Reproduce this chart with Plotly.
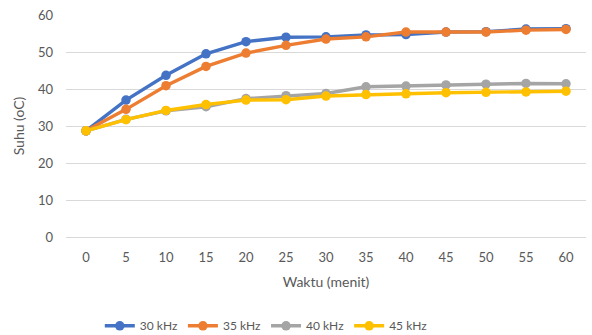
import plotly.graph_objects as go

waktu = [0, 5, 10, 15, 20, 25, 30, 35, 40, 45, 50, 55, 60]
suhu_30 = [28.7, 37.0, 43.7, 49.5, 52.8, 54.0, 54.1, 54.6, 54.7, 55.4, 55.5, 56.2, 56.3]
suhu_35 = [28.7, 34.5, 40.9, 46.1, 49.7, 51.8, 53.5, 54.1, 55.4, 55.4, 55.4, 55.9, 56.1]
suhu_40 = [28.7, 31.8, 34.1, 35.2, 37.4, 38.2, 38.8, 40.6, 40.8, 41.1, 41.3, 41.5, 41.4]
suhu_45 = [28.7, 31.7, 34.2, 35.8, 37.0, 37.1, 38.1, 38.5, 38.7, 39.0, 39.1, 39.2, 39.4]
series_names = ["30 kHz", "35 kHz", "40 kHz", "45 kHz"]
colors = ["#4472C4", "#ED7D31", "#A5A5A5", "#FFC000"]

fig = go.Figure()
for name, vals, c in zip(series_names, [suhu_30, suhu_35, suhu_40, suhu_45], colors):
    fig.add_trace(go.Scatter(
        x=waktu, y=vals, name=name, mode="lines+markers",
        line=dict(color=c, width=3.4),
        marker=dict(color=c, size=9.5),
    ))

font_color = "#595959"
fig.update_layout(
    width=592, height=335,
    margin=dict(l=66, r=6, t=15, b=98, autoexpand=False),
    paper_bgcolor="white", plot_bgcolor="white",
    font=dict(family="Lato, 'Open Sans', sans-serif", size=13, color=font_color),
    showlegend=True,
    legend=dict(orientation="h", x=0.065, xanchor="left", y=-0.40, yanchor="middle",
                font=dict(size=12, color=font_color), itemwidth=30, tracegroupgap=0),
    xaxis=dict(
        range=[-2.5, 62.5], tickmode="array", tickvals=waktu, ticktext=[str(w) for w in waktu],
        showgrid=False, zeroline=False, showline=True, linecolor="#D9D9D9", linewidth=1,
        ticks="", ticklabelstandoff=8, automargin=False,
        title=dict(text="Waktu (menit)", standoff=13, font=dict(size=14, color=font_color)),
    ),
    yaxis=dict(
        range=[0, 60], dtick=10, showgrid=True, gridcolor="#D9D9D9", gridwidth=1,
        zeroline=False, showline=False, ticks="", ticklabelstandoff=12, automargin=False,
        title=dict(text="Suhu (oC)", standoff=10, font=dict(size=14, color=font_color)),
    ),
)

fig.write_html("out.html", config={"displayModeBar": False},
               post_script="document.body.style.margin='0';")
